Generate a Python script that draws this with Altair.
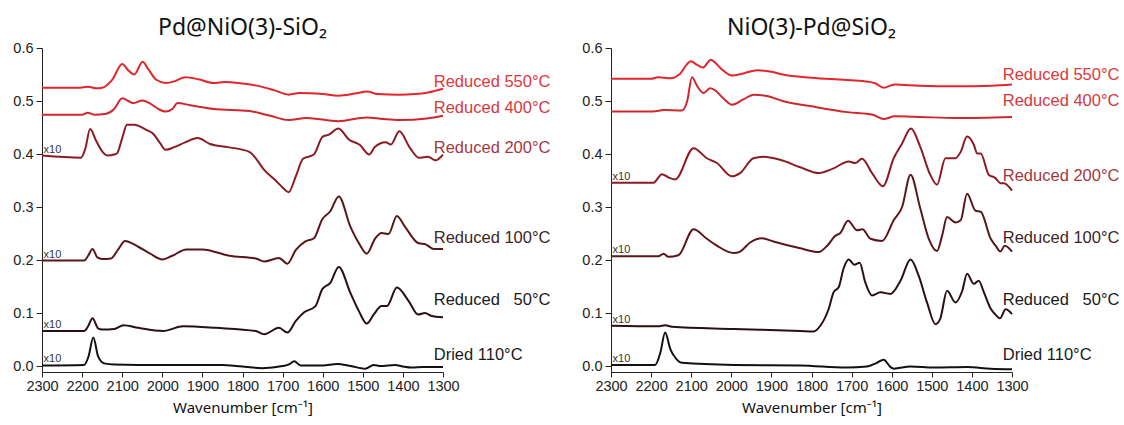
import altair as alt
import pandas as pd

# ---------------- data ----------------
SERIES = ["Reduced 550°C", "Reduced 400°C", "Reduced 200°C",
          "Reduced 100°C", "Reduced\u00a0\u00a0\u00a050°C", "Dried 110°C"]
CURVE_COLORS = ["#e3262c", "#d0262e", "#8c1c23", "#5a171b", "#2a1012", "#111111"]
LABEL_COLORS = ["#e3363b", "#d5393f", "#a5383e", "#3d2626", "#1a1a1a", "#1a1a1a"]
X10_SERIES = ["Reduced 200°C", "Reduced 100°C", "Reduced\u00a0\u00a0\u00a050°C", "Dried 110°C"]

TITLE_LEFT = "Pd@NiO(3)-SiO\u2082"
TITLE_RIGHT = "NiO(3)-Pd@SiO\u2082"
X_TITLE = "Wavenumber [cm\u207b\u00b9]"
X_TICKS = [2300, 2250, 2200, 2150, 2100, 2050, 2000, 1950, 1900, 1850, 1800,
           1750, 1700, 1650, 1600, 1550, 1500, 1450, 1400, 1350, 1300]
Y_TICKS = [0.0, 0.05, 0.1, 0.15, 0.2, 0.25, 0.3, 0.35, 0.4, 0.45, 0.5, 0.55, 0.6]

# label vertical positions (data units)
LABEL_Y_LEFT = [0.536, 0.487, 0.411, 0.242, 0.125, 0.021]
LABEL_Y_RIGHT = [0.549, 0.500, 0.358, 0.242, 0.125, 0.021]

# ---- left panel: Pd@NiO(3)-SiO2 ----
L550_WN = [2300, 2210, 2185, 2165, 2150, 2125, 2100, 2085, 2070, 2049, 2035, 2015, 1992, 1970, 1943,
           1910, 1872, 1845, 1800, 1765, 1720, 1685, 1658, 1600, 1561, 1520, 1490, 1463, 1409, 1370,
           1337, 1300]
L550_V = [0.525, 0.525, 0.527, 0.524, 0.525, 0.540, 0.570, 0.558, 0.550, 0.574, 0.560, 0.540, 0.534,
          0.537, 0.545, 0.541, 0.534, 0.536, 0.533, 0.529, 0.520, 0.512, 0.515, 0.513, 0.510, 0.514,
          0.518, 0.513, 0.512, 0.513, 0.516, 0.523]

L400_WN = [2300, 2200, 2186, 2170, 2140, 2120, 2100, 2085, 2073, 2050, 2032, 2010, 1992, 1975, 1962,
           1930, 1872, 1783, 1730, 1685, 1640, 1561, 1490, 1450, 1409, 1340, 1300]
L400_V = [0.474, 0.474, 0.478, 0.474, 0.476, 0.485, 0.505, 0.500, 0.496, 0.501, 0.496, 0.485, 0.480,
          0.485, 0.496, 0.492, 0.485, 0.481, 0.472, 0.464, 0.468, 0.462, 0.469, 0.466, 0.464, 0.467,
          0.472]

L200_WN = [2300, 2203, 2192, 2180, 2165, 2150, 2136, 2120, 2113, 2100, 2088, 2070, 2059, 2041, 2024,
           2005, 1992, 1970, 1943, 1912, 1881, 1836, 1783, 1765, 1747, 1720, 1700, 1685, 1667, 1649,
           1622, 1600, 1586, 1561, 1534, 1507, 1484, 1470, 1443, 1430, 1409, 1382, 1360, 1337, 1319,
           1300]
L200_V = [0.397, 0.393, 0.410, 0.447, 0.425, 0.405, 0.397, 0.399, 0.401, 0.430, 0.455, 0.455, 0.453,
          0.446, 0.439, 0.420, 0.408, 0.413, 0.422, 0.430, 0.419, 0.413, 0.404, 0.390, 0.371, 0.352,
          0.337, 0.328, 0.358, 0.391, 0.399, 0.433, 0.436, 0.448, 0.427, 0.417, 0.399, 0.413, 0.422,
          0.418, 0.443, 0.411, 0.393, 0.395, 0.388, 0.399]

L100_WN = [2300, 2195, 2185, 2174, 2162, 2150, 2128, 2110, 2093, 2060, 2030, 2000, 1975, 1940, 1900,
           1833, 1767, 1746, 1709, 1688, 1667, 1643, 1622, 1601, 1581, 1560, 1531, 1510, 1490, 1469,
           1453, 1436, 1415, 1395, 1362, 1342, 1324, 1300]
L100_V = [0.199, 0.199, 0.208, 0.221, 0.205, 0.202, 0.203, 0.220, 0.236, 0.225, 0.212, 0.201, 0.208,
          0.220, 0.220, 0.208, 0.203, 0.197, 0.204, 0.193, 0.219, 0.235, 0.241, 0.277, 0.292, 0.320,
          0.263, 0.232, 0.212, 0.241, 0.251, 0.249, 0.283, 0.263, 0.232, 0.229, 0.221, 0.221]

L50_WN = [2300, 2195, 2185, 2174, 2160, 2150, 2120, 2097, 2060, 1998, 1948, 1866, 1767, 1746, 1709,
          1688, 1667, 1647, 1618, 1601, 1581, 1560, 1531, 1510, 1490, 1473, 1453, 1440, 1415, 1386,
          1362, 1345, 1330, 1300]
L50_V = [0.066, 0.066, 0.075, 0.090, 0.071, 0.069, 0.070, 0.077, 0.072, 0.066, 0.075, 0.072, 0.066,
         0.060, 0.072, 0.063, 0.085, 0.101, 0.113, 0.145, 0.157, 0.187, 0.138, 0.104, 0.080, 0.097,
         0.113, 0.113, 0.148, 0.123, 0.097, 0.100, 0.095, 0.092]

LD_WN = [2300, 2195, 2184, 2172, 2160, 2145, 2120, 2000, 1850, 1750, 1700, 1684, 1671, 1655, 1600,
         1564, 1530, 1494, 1473, 1455, 1420, 1400, 1378, 1350, 1300]
LD_V = [0.001, 0.002, 0.018, 0.054, 0.018, 0.005, 0.003, 0.002, 0.002, -0.004, 0.000, 0.003, 0.009,
        0.001, 0.001, 0.004, 0.000, -0.005, 0.002, 0.000, 0.002, -0.001, -0.003, -0.002, -0.002]

# ---- right panel: NiO(3)-Pd@SiO2 ----
R550_WN = [2300, 2200, 2183, 2150, 2130, 2101, 2085, 2071, 2051, 2040, 2024, 1998, 1970, 1935, 1900,
           1872, 1800, 1720, 1665, 1640, 1620, 1593, 1531, 1441, 1350, 1300]
R550_V = [0.542, 0.542, 0.545, 0.543, 0.550, 0.575, 0.568, 0.563, 0.578, 0.572, 0.560, 0.548, 0.552,
          0.558, 0.555, 0.550, 0.544, 0.540, 0.537, 0.533, 0.525, 0.531, 0.529, 0.528, 0.529, 0.531]

R400_WN = [2300, 2195, 2168, 2123, 2110, 2098, 2085, 2069, 2053, 2042, 2020, 1998, 1970, 1944, 1908,
           1872, 1800, 1710, 1647, 1620, 1593, 1531, 1441, 1300]
R400_V = [0.480, 0.480, 0.483, 0.482, 0.500, 0.545, 0.528, 0.515, 0.524, 0.521, 0.505, 0.493, 0.503,
          0.512, 0.509, 0.500, 0.490, 0.479, 0.474, 0.466, 0.471, 0.470, 0.468, 0.470]

R200_WN = [2300, 2194, 2173, 2157, 2140, 2094, 2061, 2036, 1999, 1978, 1945, 1920, 1878, 1828, 1782,
           1745, 1707, 1691, 1674, 1649, 1622, 1595, 1574, 1552, 1529, 1504, 1487, 1466, 1441, 1428,
           1412, 1395, 1387, 1378, 1358, 1342, 1329, 1320, 1300]
R200_V = [0.346, 0.346, 0.362, 0.356, 0.352, 0.411, 0.392, 0.383, 0.358, 0.364, 0.392, 0.395, 0.389,
          0.375, 0.364, 0.373, 0.386, 0.383, 0.391, 0.364, 0.339, 0.392, 0.420, 0.448, 0.414, 0.361,
          0.342, 0.392, 0.392, 0.404, 0.433, 0.417, 0.401, 0.401, 0.361, 0.355, 0.345, 0.345, 0.331]

R100_WN = [2300, 2182, 2169, 2157, 2132, 2094, 2061, 2036, 1994, 1978, 1953, 1924, 1895, 1828, 1782,
           1761, 1740, 1728, 1709, 1686, 1673, 1653, 1624, 1595, 1574, 1553, 1529, 1508, 1487, 1474,
           1462, 1441, 1428, 1412, 1391, 1378, 1353, 1340, 1329, 1318, 1300]
R100_V = [0.207, 0.207, 0.212, 0.206, 0.209, 0.258, 0.240, 0.227, 0.213, 0.216, 0.233, 0.241, 0.235,
          0.222, 0.215, 0.227, 0.246, 0.251, 0.274, 0.256, 0.258, 0.240, 0.236, 0.275, 0.300, 0.361,
          0.298, 0.241, 0.217, 0.247, 0.281, 0.271, 0.275, 0.325, 0.293, 0.291, 0.240, 0.226, 0.216,
          0.227, 0.216]

R50_WN = [2300, 2182, 2165, 2148, 1994, 1828, 1795, 1778, 1757, 1745, 1732, 1720, 1707, 1693, 1680,
          1666, 1649, 1628, 1603, 1578, 1553, 1533, 1512, 1491, 1479, 1462, 1441, 1424, 1412, 1395,
          1383, 1370, 1353, 1340, 1330, 1316, 1300]
R50_V = [0.076, 0.075, 0.077, 0.074, 0.070, 0.066, 0.065, 0.076, 0.108, 0.139, 0.149, 0.184, 0.201,
         0.191, 0.195, 0.158, 0.133, 0.139, 0.136, 0.161, 0.201, 0.171, 0.120, 0.079, 0.089, 0.142,
         0.120, 0.142, 0.174, 0.155, 0.161, 0.139, 0.108, 0.096, 0.090, 0.107, 0.098]

RD_WN = [2300, 2190, 2177, 2165, 2152, 2140, 2123, 1994, 1828, 1712, 1662, 1637, 1620, 1603, 1595,
         1553, 1495, 1412, 1353, 1300]
RD_V = [0.002, 0.002, 0.025, 0.063, 0.032, 0.016, 0.006, 0.002, 0.001, -0.003, -0.001, 0.006, 0.012,
        -0.002, -0.005, -0.001, -0.003, -0.002, -0.005, -0.006]

LEFT = [(L550_WN, L550_V), (L400_WN, L400_V), (L200_WN, L200_V),
        (L100_WN, L100_V), (L50_WN, L50_V), (LD_WN, LD_V)]
RIGHT = [(R550_WN, R550_V), (R400_WN, R400_V), (R200_WN, R200_V),
         (R100_WN, R100_V), (R50_WN, R50_V), (RD_WN, RD_V)]

# ---------------- chart ----------------
LABEL_X = 1323
X10_X = 2296

x_scale = alt.Scale(domain=[2300, 1300], nice=False, zero=False)
y_scale = alt.Scale(domain=[-0.0113, 0.6], nice=False, zero=False)

x_axis = alt.Axis(values=X_TICKS, title=X_TITLE, grid=False,
                  labelExpr="datum.value % 100 === 0 ? format(datum.value, 'd') : ''",
                  labelFlush=False, labelOverlap=False,
                  labelFont="Liberation Sans", labelFontSize=14.5, labelColor="#222222",
                  tickSize=5, labelPadding=2, domainColor="#222222", tickColor="#222222",
                  titleFont="Noto Sans", titleFontSize=15, titleFontWeight="normal",
                  titleColor="#111111", titlePadding=8)
y_axis = alt.Axis(values=Y_TICKS, title=None, grid=False,
                  labelExpr="abs(datum.value * 10 - round(datum.value * 10)) < 0.001 ? format(datum.value, '.1f') : ''",
                  labelOverlap=False, labelFlush=False,
                  labelFont="Liberation Sans", labelFontSize=14.5, labelColor="#222222",
                  tickSize=6, labelPadding=3, domainColor="#222222", tickColor="#222222")


def panel(curves, label_y, title):
    rows = []
    for name, (wn, vals) in zip(SERIES, curves):
        for w, v in zip(wn, vals):
            rows.append({"wn": w, "val": v, "series": name})
    df = pd.DataFrame(rows)

    lines = alt.Chart(df).mark_line(strokeWidth=2, interpolate="monotone").encode(
        x=alt.X("wn:Q", scale=x_scale, axis=x_axis),
        y=alt.Y("val:Q", scale=y_scale, axis=y_axis),
        color=alt.Color("series:N", scale=alt.Scale(domain=SERIES, range=CURVE_COLORS), legend=None),
        detail="series:N",
    )

    lab_df = pd.DataFrame({"series": SERIES, "y": label_y, "x": [LABEL_X] * len(SERIES),
                           "lc": LABEL_COLORS})
    labels = alt.Chart(lab_df).mark_text(
        align="left", baseline="middle", font="Liberation Sans", fontSize=16.5
    ).encode(
        x=alt.X("x:Q", scale=x_scale),
        y=alt.Y("y:Q", scale=y_scale),
        text="series:N",
        color=alt.Color("lc:N", scale=None, legend=None),
    )

    start_vals = {name: vals[0] for name, (wn, vals) in zip(SERIES, curves)}
    x10_df = pd.DataFrame({"y": [start_vals[s] for s in X10_SERIES],
                           "x": [X10_X] * len(X10_SERIES),
                           "t": ["x10"] * len(X10_SERIES)})
    x10 = alt.Chart(x10_df).mark_text(
        align="left", baseline="bottom", font="Liberation Sans", fontSize=11, color="#333333", dy=-1
    ).encode(
        x=alt.X("x:Q", scale=x_scale),
        y=alt.Y("y:Q", scale=y_scale),
        text="t:N",
    )

    return alt.layer(lines, labels, x10).properties(
        width=401, height=324,
        title=alt.TitleParams(text=title, fontSize=23, font="Noto Sans", fontWeight="normal",
                              color="#111111", anchor="middle", frame="group", offset=4, dy=4),
    )


left = panel(LEFT, LABEL_Y_LEFT, TITLE_LEFT)
right = panel(RIGHT, LABEL_Y_RIGHT, TITLE_RIGHT)

chart = alt.hconcat(left, right, spacing=168, bounds="flush").properties(
    padding={"left": 12, "top": 17, "right": 0, "bottom": 0},
    background="white",
).configure_view(stroke=None)

chart.save("out.html", embed_options={"renderer": "svg", "actions": False})
